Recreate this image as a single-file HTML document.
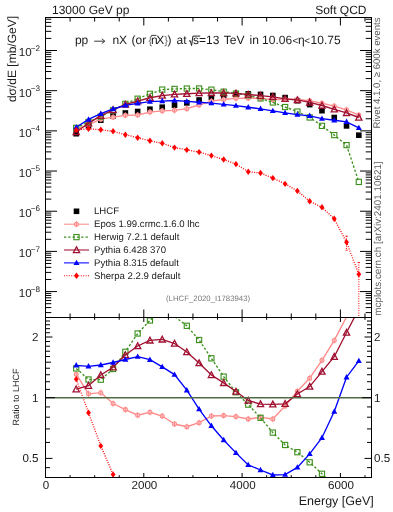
<!DOCTYPE html>
<html><head><meta charset="utf-8"><style>
html,body{margin:0;padding:0;background:#fff;}
svg{display:block;}
text{font-family:"Liberation Sans",sans-serif;fill:#1a1a1a;text-rendering:geometricPrecision;}
svg{will-change:transform;}
.hd{font-size:12px;}
.lg{font-size:9.6px;}
.tl{font-size:11.6px;}
.gr{fill:#5a5a5a;}
</style></head><body>
<svg width="393" height="512" viewBox="0 0 393 512">
<rect width="393" height="512" fill="#fff"/>
<text x="52" y="14" class="hd">13000 GeV pp</text>
<text x="366.5" y="14" class="hd" text-anchor="end">Soft QCD</text>
<g style="font-size:12px">
<text x="74.9" y="43.9">pp</text>
<path d="M94.2,41.2H104.6M101.8,38.8L104.8,41.2L101.8,43.6" fill="none" stroke="#222" stroke-width="0.9"/>
<text x="112.4" y="43.9">nX</text>
<text x="131.6" y="43.9">(or</text>
<text x="148.6" y="43.9" style="fill:#666;font-size:11px">{</text>
<text x="150.9" y="43.9">n</text><path d="M151.2,35.4H156.4" stroke="#222" stroke-width="0.9"/>
<text x="156.3" y="43.9">X</text>
<text x="164.3" y="43.9" style="fill:#666;font-size:11px">}</text>
<text x="167.6" y="43.9">)</text>
<text x="176.6" y="43.9">at</text>
<path d="M188.9,41.2L190.2,40.6L191.6,45.6L192.9,36.1H200.2" fill="none" stroke="#222" stroke-width="1"/>
<text x="193.1" y="43.9">s=13</text>
<text x="223.8" y="43.9">TeV</text>
<text x="249.6" y="43.9">in</text>
<text x="262.1" y="43.9">10.06</text>
<text x="292.6" y="43.6" style="font-size:10px">&lt;</text>
<text x="298.1" y="43.9">η</text>
<text x="304.2" y="43.6" style="font-size:10px">&lt;</text>
<text x="310.6" y="43.9">10.75</text>
</g>
<text transform="translate(379.8,17.5) rotate(-90)" text-anchor="end" class="gr" style="font-size:9.62px">Rivet 4.1.0, ≥ 600k events</text>
<text transform="translate(380.8,161.4) rotate(-90)" text-anchor="end" class="gr" style="font-size:9.86px">mcplots.cern.ch [arXiv:2401.10621]</text>
<text transform="translate(16,16) rotate(-90)" text-anchor="end" style="font-size:12px">dσ/dE [mb/GeV]</text>
<text transform="translate(19,425.5) rotate(-90)" style="font-size:9px">Ratio to LHCF</text>
<text x="166" y="301.4" style="font-size:7.8px;fill:#7a7a7a">(LHCF_2020_I1783943)</text>
<defs><clipPath id="cm"><rect x="45.5" y="17.5" width="326.0" height="300.0"/></clipPath><clipPath id="cr"><rect x="45.5" y="317.5" width="326.0" height="160.0"/></clipPath></defs>
<g clip-path="url(#cm)">
<rect x="73.42" y="130.90" width="5.6" height="5.6" fill="#000"/>
<rect x="85.71" y="122.90" width="5.6" height="5.6" fill="#000"/>
<rect x="97.99" y="117.40" width="5.6" height="5.6" fill="#000"/>
<rect x="110.28" y="113.20" width="5.6" height="5.6" fill="#000"/>
<rect x="122.57" y="110.20" width="5.6" height="5.6" fill="#000"/>
<rect x="134.86" y="108.70" width="5.6" height="5.6" fill="#000"/>
<rect x="147.14" y="106.40" width="5.6" height="5.6" fill="#000"/>
<rect x="159.43" y="104.40" width="5.6" height="5.6" fill="#000"/>
<rect x="171.72" y="102.30" width="5.6" height="5.6" fill="#000"/>
<rect x="184.01" y="100.10" width="5.6" height="5.6" fill="#000"/>
<rect x="196.29" y="97.20" width="5.6" height="5.6" fill="#000"/>
<rect x="208.58" y="94.70" width="5.6" height="5.6" fill="#000"/>
<rect x="220.87" y="93.10" width="5.6" height="5.6" fill="#000"/>
<rect x="233.16" y="91.80" width="5.6" height="5.6" fill="#000"/>
<rect x="245.44" y="91.10" width="5.6" height="5.6" fill="#000"/>
<rect x="257.73" y="91.60" width="5.6" height="5.6" fill="#000"/>
<rect x="270.02" y="92.70" width="5.6" height="5.6" fill="#000"/>
<rect x="282.31" y="94.80" width="5.6" height="5.6" fill="#000"/>
<rect x="294.59" y="97.90" width="5.6" height="5.6" fill="#000"/>
<rect x="306.88" y="101.80" width="5.6" height="5.6" fill="#000"/>
<rect x="319.17" y="107.90" width="5.6" height="5.6" fill="#000"/>
<rect x="331.46" y="114.70" width="5.6" height="5.6" fill="#000"/>
<rect x="343.74" y="123.10" width="5.6" height="5.6" fill="#000"/>
<rect x="356.03" y="132.40" width="5.6" height="5.6" fill="#000"/>
<polyline points="76.22,129.02 88.51,124.92 100.79,119.20 113.08,117.16 125.37,115.37 137.66,114.99 149.94,112.11 162.23,110.85 174.52,110.34 186.81,108.68 199.09,104.98 211.38,101.15 223.67,99.47 235.96,98.37 248.24,98.14 260.53,98.33 272.82,99.74 285.11,99.25 297.39,99.42 309.68,100.71 321.97,103.25 334.26,106.08 346.54,109.80 358.83,115.10" fill="none" stroke="#ff8a8a" stroke-width="1.35" />
<circle cx="76.22" cy="129.02" r="2.0" fill="#ffd0d0" stroke="#ff8a8a" stroke-width="1.05"/><path d="M76.22,126.02V132.02" stroke="#ff8a8a" stroke-width="1"/>
<circle cx="88.51" cy="124.92" r="2.0" fill="#ffd0d0" stroke="#ff8a8a" stroke-width="1.05"/><path d="M88.51,121.92V127.92" stroke="#ff8a8a" stroke-width="1"/>
<circle cx="100.79" cy="119.20" r="2.0" fill="#ffd0d0" stroke="#ff8a8a" stroke-width="1.05"/><path d="M100.79,116.20V122.20" stroke="#ff8a8a" stroke-width="1"/>
<circle cx="113.08" cy="117.16" r="2.0" fill="#ffd0d0" stroke="#ff8a8a" stroke-width="1.05"/><path d="M113.08,114.16V120.16" stroke="#ff8a8a" stroke-width="1"/>
<circle cx="125.37" cy="115.37" r="2.0" fill="#ffd0d0" stroke="#ff8a8a" stroke-width="1.05"/><path d="M125.37,112.37V118.37" stroke="#ff8a8a" stroke-width="1"/>
<circle cx="137.66" cy="114.99" r="2.0" fill="#ffd0d0" stroke="#ff8a8a" stroke-width="1.05"/><path d="M137.66,111.99V117.99" stroke="#ff8a8a" stroke-width="1"/>
<circle cx="149.94" cy="112.11" r="2.0" fill="#ffd0d0" stroke="#ff8a8a" stroke-width="1.05"/><path d="M149.94,109.11V115.11" stroke="#ff8a8a" stroke-width="1"/>
<circle cx="162.23" cy="110.85" r="2.0" fill="#ffd0d0" stroke="#ff8a8a" stroke-width="1.05"/><path d="M162.23,107.85V113.85" stroke="#ff8a8a" stroke-width="1"/>
<circle cx="174.52" cy="110.34" r="2.0" fill="#ffd0d0" stroke="#ff8a8a" stroke-width="1.05"/><path d="M174.52,107.34V113.34" stroke="#ff8a8a" stroke-width="1"/>
<circle cx="186.81" cy="108.68" r="2.0" fill="#ffd0d0" stroke="#ff8a8a" stroke-width="1.05"/><path d="M186.81,105.68V111.68" stroke="#ff8a8a" stroke-width="1"/>
<circle cx="199.09" cy="104.98" r="2.0" fill="#ffd0d0" stroke="#ff8a8a" stroke-width="1.05"/><path d="M199.09,101.98V107.98" stroke="#ff8a8a" stroke-width="1"/>
<circle cx="211.38" cy="101.15" r="2.0" fill="#ffd0d0" stroke="#ff8a8a" stroke-width="1.05"/><path d="M211.38,98.15V104.15" stroke="#ff8a8a" stroke-width="1"/>
<circle cx="223.67" cy="99.47" r="2.0" fill="#ffd0d0" stroke="#ff8a8a" stroke-width="1.05"/><path d="M223.67,96.47V102.47" stroke="#ff8a8a" stroke-width="1"/>
<circle cx="235.96" cy="98.37" r="2.0" fill="#ffd0d0" stroke="#ff8a8a" stroke-width="1.05"/><path d="M235.96,95.37V101.37" stroke="#ff8a8a" stroke-width="1"/>
<circle cx="248.24" cy="98.14" r="2.0" fill="#ffd0d0" stroke="#ff8a8a" stroke-width="1.05"/><path d="M248.24,95.14V101.14" stroke="#ff8a8a" stroke-width="1"/>
<circle cx="260.53" cy="98.33" r="2.0" fill="#ffd0d0" stroke="#ff8a8a" stroke-width="1.05"/><path d="M260.53,95.33V101.33" stroke="#ff8a8a" stroke-width="1"/>
<circle cx="272.82" cy="99.74" r="2.0" fill="#ffd0d0" stroke="#ff8a8a" stroke-width="1.05"/><path d="M272.82,96.74V102.74" stroke="#ff8a8a" stroke-width="1"/>
<circle cx="285.11" cy="99.25" r="2.0" fill="#ffd0d0" stroke="#ff8a8a" stroke-width="1.05"/><path d="M285.11,96.25V102.25" stroke="#ff8a8a" stroke-width="1"/>
<circle cx="297.39" cy="99.42" r="2.0" fill="#ffd0d0" stroke="#ff8a8a" stroke-width="1.05"/><path d="M297.39,96.42V102.42" stroke="#ff8a8a" stroke-width="1"/>
<circle cx="309.68" cy="100.71" r="2.0" fill="#ffd0d0" stroke="#ff8a8a" stroke-width="1.05"/><path d="M309.68,97.71V103.71" stroke="#ff8a8a" stroke-width="1"/>
<circle cx="321.97" cy="103.25" r="2.0" fill="#ffd0d0" stroke="#ff8a8a" stroke-width="1.05"/><path d="M321.97,100.25V106.25" stroke="#ff8a8a" stroke-width="1"/>
<circle cx="334.26" cy="106.08" r="2.0" fill="#ffd0d0" stroke="#ff8a8a" stroke-width="1.05"/><path d="M334.26,103.08V109.08" stroke="#ff8a8a" stroke-width="1"/>
<circle cx="346.54" cy="109.80" r="2.0" fill="#ffd0d0" stroke="#ff8a8a" stroke-width="1.05"/><path d="M346.54,106.80V112.80" stroke="#ff8a8a" stroke-width="1"/>
<circle cx="358.83" cy="115.10" r="2.0" fill="#ffd0d0" stroke="#ff8a8a" stroke-width="1.05"/><path d="M358.83,112.10V118.10" stroke="#ff8a8a" stroke-width="1"/>
<polyline points="76.22,127.86 88.51,122.07 100.79,116.61 113.08,110.28 125.37,103.85 137.66,98.71 149.94,93.82 162.23,89.60 174.52,88.90 186.81,88.57 199.09,88.50 211.38,89.65 223.67,91.70 235.96,93.52 248.24,95.27 260.53,98.41 272.82,102.45 285.11,107.03 297.39,111.56 309.68,117.47 321.97,125.86 334.26,135.10 346.54,145.10 358.83,181.90" fill="none" stroke="#3a8f1a" stroke-width="1.35" stroke-dasharray="2.3,2"/>
<rect x="73.62" y="125.26" width="5.2" height="5.2" fill="none" stroke="#3a8f1a" stroke-width="1.1"/>
<rect x="85.91" y="119.47" width="5.2" height="5.2" fill="none" stroke="#3a8f1a" stroke-width="1.1"/>
<rect x="98.19" y="114.01" width="5.2" height="5.2" fill="none" stroke="#3a8f1a" stroke-width="1.1"/>
<rect x="110.48" y="107.68" width="5.2" height="5.2" fill="none" stroke="#3a8f1a" stroke-width="1.1"/>
<rect x="122.77" y="101.25" width="5.2" height="5.2" fill="none" stroke="#3a8f1a" stroke-width="1.1"/>
<rect x="135.06" y="96.11" width="5.2" height="5.2" fill="none" stroke="#3a8f1a" stroke-width="1.1"/>
<rect x="147.34" y="91.22" width="5.2" height="5.2" fill="none" stroke="#3a8f1a" stroke-width="1.1"/>
<rect x="159.63" y="87.00" width="5.2" height="5.2" fill="none" stroke="#3a8f1a" stroke-width="1.1"/>
<rect x="171.92" y="86.30" width="5.2" height="5.2" fill="none" stroke="#3a8f1a" stroke-width="1.1"/>
<rect x="184.21" y="85.97" width="5.2" height="5.2" fill="none" stroke="#3a8f1a" stroke-width="1.1"/>
<rect x="196.49" y="85.90" width="5.2" height="5.2" fill="none" stroke="#3a8f1a" stroke-width="1.1"/>
<rect x="208.78" y="87.05" width="5.2" height="5.2" fill="none" stroke="#3a8f1a" stroke-width="1.1"/>
<rect x="221.07" y="89.10" width="5.2" height="5.2" fill="none" stroke="#3a8f1a" stroke-width="1.1"/>
<rect x="233.36" y="90.92" width="5.2" height="5.2" fill="none" stroke="#3a8f1a" stroke-width="1.1"/>
<rect x="245.64" y="92.67" width="5.2" height="5.2" fill="none" stroke="#3a8f1a" stroke-width="1.1"/>
<rect x="257.93" y="95.81" width="5.2" height="5.2" fill="none" stroke="#3a8f1a" stroke-width="1.1"/>
<rect x="270.22" y="99.85" width="5.2" height="5.2" fill="none" stroke="#3a8f1a" stroke-width="1.1"/>
<rect x="282.51" y="104.43" width="5.2" height="5.2" fill="none" stroke="#3a8f1a" stroke-width="1.1"/>
<rect x="294.79" y="108.96" width="5.2" height="5.2" fill="none" stroke="#3a8f1a" stroke-width="1.1"/>
<rect x="307.08" y="114.87" width="5.2" height="5.2" fill="none" stroke="#3a8f1a" stroke-width="1.1"/>
<rect x="319.37" y="123.26" width="5.2" height="5.2" fill="none" stroke="#3a8f1a" stroke-width="1.1"/>
<rect x="331.66" y="132.50" width="5.2" height="5.2" fill="none" stroke="#3a8f1a" stroke-width="1.1"/>
<rect x="343.94" y="142.50" width="5.2" height="5.2" fill="none" stroke="#3a8f1a" stroke-width="1.1"/>
<rect x="356.23" y="179.30" width="5.2" height="5.2" fill="none" stroke="#3a8f1a" stroke-width="1.1"/>
<polyline points="76.22,132.01 88.51,123.31 100.79,115.68 113.08,109.94 125.37,104.49 137.66,101.20 149.94,97.78 162.23,95.58 174.52,94.30 186.81,93.79 199.09,93.11 211.38,92.98 223.67,92.95 235.96,93.36 248.24,94.46 260.53,95.68 272.82,96.82 285.11,98.82 297.39,99.96 309.68,102.39 321.97,105.50 334.26,109.33 346.54,112.91 358.83,117.50" fill="none" stroke="#a01030" stroke-width="1.35" />
<path d="M76.22,128.81 L79.32,134.61 L73.12,134.61 Z" fill="none" stroke="#a01030" stroke-width="1.3"/>
<path d="M88.51,120.11 L91.61,125.91 L85.41,125.91 Z" fill="none" stroke="#a01030" stroke-width="1.3"/>
<path d="M100.79,112.48 L103.89,118.28 L97.69,118.28 Z" fill="none" stroke="#a01030" stroke-width="1.3"/>
<path d="M113.08,106.74 L116.18,112.54 L109.98,112.54 Z" fill="none" stroke="#a01030" stroke-width="1.3"/>
<path d="M125.37,101.29 L128.47,107.09 L122.27,107.09 Z" fill="none" stroke="#a01030" stroke-width="1.3"/>
<path d="M137.66,98.00 L140.76,103.80 L134.56,103.80 Z" fill="none" stroke="#a01030" stroke-width="1.3"/>
<path d="M149.94,94.58 L153.04,100.38 L146.84,100.38 Z" fill="none" stroke="#a01030" stroke-width="1.3"/>
<path d="M162.23,92.38 L165.33,98.18 L159.13,98.18 Z" fill="none" stroke="#a01030" stroke-width="1.3"/>
<path d="M174.52,91.10 L177.62,96.90 L171.42,96.90 Z" fill="none" stroke="#a01030" stroke-width="1.3"/>
<path d="M186.81,90.59 L189.91,96.39 L183.71,96.39 Z" fill="none" stroke="#a01030" stroke-width="1.3"/>
<path d="M199.09,89.91 L202.19,95.71 L195.99,95.71 Z" fill="none" stroke="#a01030" stroke-width="1.3"/>
<path d="M211.38,89.78 L214.48,95.58 L208.28,95.58 Z" fill="none" stroke="#a01030" stroke-width="1.3"/>
<path d="M223.67,89.75 L226.77,95.55 L220.57,95.55 Z" fill="none" stroke="#a01030" stroke-width="1.3"/>
<path d="M235.96,90.16 L239.06,95.96 L232.86,95.96 Z" fill="none" stroke="#a01030" stroke-width="1.3"/>
<path d="M248.24,91.26 L251.34,97.06 L245.14,97.06 Z" fill="none" stroke="#a01030" stroke-width="1.3"/>
<path d="M260.53,92.48 L263.63,98.28 L257.43,98.28 Z" fill="none" stroke="#a01030" stroke-width="1.3"/>
<path d="M272.82,93.62 L275.92,99.42 L269.72,99.42 Z" fill="none" stroke="#a01030" stroke-width="1.3"/>
<path d="M285.11,95.62 L288.21,101.42 L282.01,101.42 Z" fill="none" stroke="#a01030" stroke-width="1.3"/>
<path d="M297.39,96.76 L300.49,102.56 L294.29,102.56 Z" fill="none" stroke="#a01030" stroke-width="1.3"/>
<path d="M309.68,99.19 L312.78,104.99 L306.58,104.99 Z" fill="none" stroke="#a01030" stroke-width="1.3"/>
<path d="M321.97,102.30 L325.07,108.10 L318.87,108.10 Z" fill="none" stroke="#a01030" stroke-width="1.3"/>
<path d="M334.26,106.13 L337.36,111.93 L331.16,111.93 Z" fill="none" stroke="#a01030" stroke-width="1.3"/>
<path d="M346.54,109.71 L349.64,115.51 L343.44,115.51 Z" fill="none" stroke="#a01030" stroke-width="1.3"/>
<path d="M358.83,114.30 L361.93,120.10 L355.73,120.10 Z" fill="none" stroke="#a01030" stroke-width="1.3"/>
<polyline points="76.22,127.24 88.51,119.44 100.79,113.68 113.08,108.99 125.37,105.39 137.66,103.31 149.94,101.63 162.23,101.06 174.52,100.50 186.81,101.41 199.09,102.27 211.38,103.10 223.67,104.33 235.96,105.60 248.24,107.29 260.53,108.81 272.82,110.90 285.11,112.92 297.39,114.59 309.68,115.80 321.97,118.67 334.26,120.25 346.54,121.81 358.83,127.87" fill="none" stroke="#0000ff" stroke-width="1.35" />
<path d="M76.22,124.04 L79.22,129.44 L73.22,129.44 Z" fill="#0000ff"/>
<path d="M88.51,116.24 L91.51,121.64 L85.51,121.64 Z" fill="#0000ff"/>
<path d="M100.79,110.48 L103.79,115.88 L97.79,115.88 Z" fill="#0000ff"/>
<path d="M113.08,105.79 L116.08,111.19 L110.08,111.19 Z" fill="#0000ff"/>
<path d="M125.37,102.19 L128.37,107.59 L122.37,107.59 Z" fill="#0000ff"/>
<path d="M137.66,100.11 L140.66,105.51 L134.66,105.51 Z" fill="#0000ff"/>
<path d="M149.94,98.43 L152.94,103.83 L146.94,103.83 Z" fill="#0000ff"/>
<path d="M162.23,97.86 L165.23,103.26 L159.23,103.26 Z" fill="#0000ff"/>
<path d="M174.52,97.30 L177.52,102.70 L171.52,102.70 Z" fill="#0000ff"/>
<path d="M186.81,98.21 L189.81,103.61 L183.81,103.61 Z" fill="#0000ff"/>
<path d="M199.09,99.07 L202.09,104.47 L196.09,104.47 Z" fill="#0000ff"/>
<path d="M211.38,99.90 L214.38,105.30 L208.38,105.30 Z" fill="#0000ff"/>
<path d="M223.67,101.13 L226.67,106.53 L220.67,106.53 Z" fill="#0000ff"/>
<path d="M235.96,102.40 L238.96,107.80 L232.96,107.80 Z" fill="#0000ff"/>
<path d="M248.24,104.09 L251.24,109.49 L245.24,109.49 Z" fill="#0000ff"/>
<path d="M260.53,105.61 L263.53,111.01 L257.53,111.01 Z" fill="#0000ff"/>
<path d="M272.82,107.70 L275.82,113.10 L269.82,113.10 Z" fill="#0000ff"/>
<path d="M285.11,109.72 L288.11,115.12 L282.11,115.12 Z" fill="#0000ff"/>
<path d="M297.39,111.39 L300.39,116.79 L294.39,116.79 Z" fill="#0000ff"/>
<path d="M309.68,112.60 L312.68,118.00 L306.68,118.00 Z" fill="#0000ff"/>
<path d="M321.97,115.47 L324.97,120.87 L318.97,120.87 Z" fill="#0000ff"/>
<path d="M334.26,117.05 L337.26,122.45 L331.26,122.45 Z" fill="#0000ff"/>
<path d="M346.54,118.61 L349.54,124.01 L343.54,124.01 Z" fill="#0000ff"/>
<path d="M358.83,124.67 L361.83,130.07 L355.83,130.07 Z" fill="#0000ff"/>
<polyline points="76.22,130.00 88.51,128.70 100.79,129.80 113.08,131.30 125.37,134.70 137.66,137.70 149.94,140.80 162.23,143.30 174.52,147.60 186.81,149.90 199.09,152.10 211.38,155.60 223.67,159.50 235.96,164.10 248.24,171.70 260.53,173.00 272.82,178.10 285.11,183.90 297.39,190.90 309.68,201.30 321.97,207.30 334.26,218.80 346.54,242.30 358.83,274.30" fill="none" stroke="#ff0000" stroke-width="1.35" stroke-dasharray="1,1.4"/>
<path d="M346.54,235.9V250.4M358.83,262.2V318" stroke="#ff0000" stroke-width="1" stroke-dasharray="1,1.4"/>
<path d="M345.34,236.2h2.4M345.34,250.2h2.4M357.63,262.5h2.4" stroke="#ff0000" stroke-width="0.8"/>
<path d="M76.22,126.80 L78.62,130.00 L76.22,133.20 L73.82,130.00 Z" fill="#ff0000"/>
<path d="M88.51,125.50 L90.91,128.70 L88.51,131.90 L86.11,128.70 Z" fill="#ff0000"/>
<path d="M100.79,126.60 L103.19,129.80 L100.79,133.00 L98.39,129.80 Z" fill="#ff0000"/>
<path d="M113.08,128.10 L115.48,131.30 L113.08,134.50 L110.68,131.30 Z" fill="#ff0000"/>
<path d="M125.37,131.50 L127.77,134.70 L125.37,137.90 L122.97,134.70 Z" fill="#ff0000"/>
<path d="M137.66,134.50 L140.06,137.70 L137.66,140.90 L135.26,137.70 Z" fill="#ff0000"/>
<path d="M149.94,137.60 L152.34,140.80 L149.94,144.00 L147.54,140.80 Z" fill="#ff0000"/>
<path d="M162.23,140.10 L164.63,143.30 L162.23,146.50 L159.83,143.30 Z" fill="#ff0000"/>
<path d="M174.52,144.40 L176.92,147.60 L174.52,150.80 L172.12,147.60 Z" fill="#ff0000"/>
<path d="M186.81,146.70 L189.21,149.90 L186.81,153.10 L184.41,149.90 Z" fill="#ff0000"/>
<path d="M199.09,148.90 L201.49,152.10 L199.09,155.30 L196.69,152.10 Z" fill="#ff0000"/>
<path d="M211.38,152.40 L213.78,155.60 L211.38,158.80 L208.98,155.60 Z" fill="#ff0000"/>
<path d="M223.67,156.30 L226.07,159.50 L223.67,162.70 L221.27,159.50 Z" fill="#ff0000"/>
<path d="M235.96,160.90 L238.36,164.10 L235.96,167.30 L233.56,164.10 Z" fill="#ff0000"/>
<path d="M248.24,168.50 L250.64,171.70 L248.24,174.90 L245.84,171.70 Z" fill="#ff0000"/>
<path d="M260.53,169.80 L262.93,173.00 L260.53,176.20 L258.13,173.00 Z" fill="#ff0000"/>
<path d="M272.82,174.90 L275.22,178.10 L272.82,181.30 L270.42,178.10 Z" fill="#ff0000"/>
<path d="M285.11,180.70 L287.51,183.90 L285.11,187.10 L282.71,183.90 Z" fill="#ff0000"/>
<path d="M297.39,187.70 L299.79,190.90 L297.39,194.10 L294.99,190.90 Z" fill="#ff0000"/>
<path d="M309.68,198.10 L312.08,201.30 L309.68,204.50 L307.28,201.30 Z" fill="#ff0000"/>
<path d="M321.97,204.10 L324.37,207.30 L321.97,210.50 L319.57,207.30 Z" fill="#ff0000"/>
<path d="M334.26,215.60 L336.66,218.80 L334.26,222.00 L331.86,218.80 Z" fill="#ff0000"/>
<path d="M346.54,239.10 L348.94,242.30 L346.54,245.50 L344.14,242.30 Z" fill="#ff0000"/>
<path d="M358.83,271.10 L361.23,274.30 L358.83,277.50 L356.43,274.30 Z" fill="#ff0000"/>
</g>
<g clip-path="url(#cr)">
<polyline points="76.22,374.20 88.51,393.80 100.79,392.70 113.08,403.50 125.37,409.60 137.66,415.20 149.94,412.30 162.23,416.00 174.52,424.00 186.81,426.70 199.09,422.70 211.38,416.00 223.67,415.60 235.96,416.60 248.24,419.00 260.53,417.40 272.82,419.00 285.11,406.00 297.39,391.30 309.68,378.20 321.97,360.30 334.26,340.40 346.54,316.91 358.83,296.83" fill="none" stroke="#ff8a8a" stroke-width="1.35" />
<circle cx="76.22" cy="374.20" r="2.0" fill="#ffd0d0" stroke="#ff8a8a" stroke-width="1.05"/><path d="M76.22,371.20V377.20" stroke="#ff8a8a" stroke-width="1"/>
<circle cx="88.51" cy="393.80" r="2.0" fill="#ffd0d0" stroke="#ff8a8a" stroke-width="1.05"/><path d="M88.51,390.80V396.80" stroke="#ff8a8a" stroke-width="1"/>
<circle cx="100.79" cy="392.70" r="2.0" fill="#ffd0d0" stroke="#ff8a8a" stroke-width="1.05"/><path d="M100.79,389.70V395.70" stroke="#ff8a8a" stroke-width="1"/>
<circle cx="113.08" cy="403.50" r="2.0" fill="#ffd0d0" stroke="#ff8a8a" stroke-width="1.05"/><path d="M113.08,400.50V406.50" stroke="#ff8a8a" stroke-width="1"/>
<circle cx="125.37" cy="409.60" r="2.0" fill="#ffd0d0" stroke="#ff8a8a" stroke-width="1.05"/><path d="M125.37,406.60V412.60" stroke="#ff8a8a" stroke-width="1"/>
<circle cx="137.66" cy="415.20" r="2.0" fill="#ffd0d0" stroke="#ff8a8a" stroke-width="1.05"/><path d="M137.66,412.20V418.20" stroke="#ff8a8a" stroke-width="1"/>
<circle cx="149.94" cy="412.30" r="2.0" fill="#ffd0d0" stroke="#ff8a8a" stroke-width="1.05"/><path d="M149.94,409.30V415.30" stroke="#ff8a8a" stroke-width="1"/>
<circle cx="162.23" cy="416.00" r="2.0" fill="#ffd0d0" stroke="#ff8a8a" stroke-width="1.05"/><path d="M162.23,413.00V419.00" stroke="#ff8a8a" stroke-width="1"/>
<circle cx="174.52" cy="424.00" r="2.0" fill="#ffd0d0" stroke="#ff8a8a" stroke-width="1.05"/><path d="M174.52,421.00V427.00" stroke="#ff8a8a" stroke-width="1"/>
<circle cx="186.81" cy="426.70" r="2.0" fill="#ffd0d0" stroke="#ff8a8a" stroke-width="1.05"/><path d="M186.81,423.70V429.70" stroke="#ff8a8a" stroke-width="1"/>
<circle cx="199.09" cy="422.70" r="2.0" fill="#ffd0d0" stroke="#ff8a8a" stroke-width="1.05"/><path d="M199.09,419.70V425.70" stroke="#ff8a8a" stroke-width="1"/>
<circle cx="211.38" cy="416.00" r="2.0" fill="#ffd0d0" stroke="#ff8a8a" stroke-width="1.05"/><path d="M211.38,413.00V419.00" stroke="#ff8a8a" stroke-width="1"/>
<circle cx="223.67" cy="415.60" r="2.0" fill="#ffd0d0" stroke="#ff8a8a" stroke-width="1.05"/><path d="M223.67,412.60V418.60" stroke="#ff8a8a" stroke-width="1"/>
<circle cx="235.96" cy="416.60" r="2.0" fill="#ffd0d0" stroke="#ff8a8a" stroke-width="1.05"/><path d="M235.96,413.60V419.60" stroke="#ff8a8a" stroke-width="1"/>
<circle cx="248.24" cy="419.00" r="2.0" fill="#ffd0d0" stroke="#ff8a8a" stroke-width="1.05"/><path d="M248.24,416.00V422.00" stroke="#ff8a8a" stroke-width="1"/>
<circle cx="260.53" cy="417.40" r="2.0" fill="#ffd0d0" stroke="#ff8a8a" stroke-width="1.05"/><path d="M260.53,414.40V420.40" stroke="#ff8a8a" stroke-width="1"/>
<circle cx="272.82" cy="419.00" r="2.0" fill="#ffd0d0" stroke="#ff8a8a" stroke-width="1.05"/><path d="M272.82,416.00V422.00" stroke="#ff8a8a" stroke-width="1"/>
<circle cx="285.11" cy="406.00" r="2.0" fill="#ffd0d0" stroke="#ff8a8a" stroke-width="1.05"/><path d="M285.11,403.00V409.00" stroke="#ff8a8a" stroke-width="1"/>
<circle cx="297.39" cy="391.30" r="2.0" fill="#ffd0d0" stroke="#ff8a8a" stroke-width="1.05"/><path d="M297.39,388.30V394.30" stroke="#ff8a8a" stroke-width="1"/>
<circle cx="309.68" cy="378.20" r="2.0" fill="#ffd0d0" stroke="#ff8a8a" stroke-width="1.05"/><path d="M309.68,375.20V381.20" stroke="#ff8a8a" stroke-width="1"/>
<circle cx="321.97" cy="360.30" r="2.0" fill="#ffd0d0" stroke="#ff8a8a" stroke-width="1.05"/><path d="M321.97,357.30V363.30" stroke="#ff8a8a" stroke-width="1"/>
<circle cx="334.26" cy="340.40" r="2.0" fill="#ffd0d0" stroke="#ff8a8a" stroke-width="1.05"/><path d="M334.26,337.40V343.40" stroke="#ff8a8a" stroke-width="1"/>
<polyline points="76.22,368.40 88.51,379.50 100.79,379.70 113.08,369.00 125.37,351.80 137.66,333.50 149.94,320.50 162.23,309.38 174.52,316.40 186.81,325.80 199.09,340.00 211.38,358.30 223.67,376.60 235.96,392.30 248.24,404.60 260.53,417.80 272.82,432.60 285.11,445.00 297.39,452.20 309.68,462.30 321.97,473.80 334.26,486.02 346.54,494.05 358.83,632.06" fill="none" stroke="#3a8f1a" stroke-width="1.35" stroke-dasharray="2.3,2"/>
<rect x="73.62" y="365.80" width="5.2" height="5.2" fill="none" stroke="#3a8f1a" stroke-width="1.1"/>
<rect x="85.91" y="376.90" width="5.2" height="5.2" fill="none" stroke="#3a8f1a" stroke-width="1.1"/>
<rect x="98.19" y="377.10" width="5.2" height="5.2" fill="none" stroke="#3a8f1a" stroke-width="1.1"/>
<rect x="110.48" y="366.40" width="5.2" height="5.2" fill="none" stroke="#3a8f1a" stroke-width="1.1"/>
<rect x="122.77" y="349.20" width="5.2" height="5.2" fill="none" stroke="#3a8f1a" stroke-width="1.1"/>
<rect x="135.06" y="330.90" width="5.2" height="5.2" fill="none" stroke="#3a8f1a" stroke-width="1.1"/>
<rect x="147.34" y="317.90" width="5.2" height="5.2" fill="none" stroke="#3a8f1a" stroke-width="1.1"/>
<rect x="184.21" y="323.20" width="5.2" height="5.2" fill="none" stroke="#3a8f1a" stroke-width="1.1"/>
<rect x="196.49" y="337.40" width="5.2" height="5.2" fill="none" stroke="#3a8f1a" stroke-width="1.1"/>
<rect x="208.78" y="355.70" width="5.2" height="5.2" fill="none" stroke="#3a8f1a" stroke-width="1.1"/>
<rect x="221.07" y="374.00" width="5.2" height="5.2" fill="none" stroke="#3a8f1a" stroke-width="1.1"/>
<rect x="233.36" y="389.70" width="5.2" height="5.2" fill="none" stroke="#3a8f1a" stroke-width="1.1"/>
<rect x="245.64" y="402.00" width="5.2" height="5.2" fill="none" stroke="#3a8f1a" stroke-width="1.1"/>
<rect x="257.93" y="415.20" width="5.2" height="5.2" fill="none" stroke="#3a8f1a" stroke-width="1.1"/>
<rect x="270.22" y="430.00" width="5.2" height="5.2" fill="none" stroke="#3a8f1a" stroke-width="1.1"/>
<rect x="282.51" y="442.40" width="5.2" height="5.2" fill="none" stroke="#3a8f1a" stroke-width="1.1"/>
<rect x="294.79" y="449.60" width="5.2" height="5.2" fill="none" stroke="#3a8f1a" stroke-width="1.1"/>
<rect x="307.08" y="459.70" width="5.2" height="5.2" fill="none" stroke="#3a8f1a" stroke-width="1.1"/>
<rect x="319.37" y="471.20" width="5.2" height="5.2" fill="none" stroke="#3a8f1a" stroke-width="1.1"/>
<polyline points="76.22,389.20 88.51,385.70 100.79,375.00 113.08,367.30 125.37,355.00 137.66,346.00 149.94,340.40 162.23,339.40 174.52,343.50 186.81,352.00 199.09,363.10 211.38,375.00 223.67,382.90 235.96,391.50 248.24,400.50 260.53,404.10 272.82,404.30 285.11,403.80 297.39,394.00 309.68,386.60 321.97,371.60 334.26,356.70 346.54,332.50 358.83,308.88" fill="none" stroke="#a01030" stroke-width="1.35" />
<path d="M76.22,386.00 L79.32,391.80 L73.12,391.80 Z" fill="none" stroke="#a01030" stroke-width="1.3"/>
<path d="M88.51,382.50 L91.61,388.30 L85.41,388.30 Z" fill="none" stroke="#a01030" stroke-width="1.3"/>
<path d="M100.79,371.80 L103.89,377.60 L97.69,377.60 Z" fill="none" stroke="#a01030" stroke-width="1.3"/>
<path d="M113.08,364.10 L116.18,369.90 L109.98,369.90 Z" fill="none" stroke="#a01030" stroke-width="1.3"/>
<path d="M125.37,351.80 L128.47,357.60 L122.27,357.60 Z" fill="none" stroke="#a01030" stroke-width="1.3"/>
<path d="M137.66,342.80 L140.76,348.60 L134.56,348.60 Z" fill="none" stroke="#a01030" stroke-width="1.3"/>
<path d="M149.94,337.20 L153.04,343.00 L146.84,343.00 Z" fill="none" stroke="#a01030" stroke-width="1.3"/>
<path d="M162.23,336.20 L165.33,342.00 L159.13,342.00 Z" fill="none" stroke="#a01030" stroke-width="1.3"/>
<path d="M174.52,340.30 L177.62,346.10 L171.42,346.10 Z" fill="none" stroke="#a01030" stroke-width="1.3"/>
<path d="M186.81,348.80 L189.91,354.60 L183.71,354.60 Z" fill="none" stroke="#a01030" stroke-width="1.3"/>
<path d="M199.09,359.90 L202.19,365.70 L195.99,365.70 Z" fill="none" stroke="#a01030" stroke-width="1.3"/>
<path d="M211.38,371.80 L214.48,377.60 L208.28,377.60 Z" fill="none" stroke="#a01030" stroke-width="1.3"/>
<path d="M223.67,379.70 L226.77,385.50 L220.57,385.50 Z" fill="none" stroke="#a01030" stroke-width="1.3"/>
<path d="M235.96,388.30 L239.06,394.10 L232.86,394.10 Z" fill="none" stroke="#a01030" stroke-width="1.3"/>
<path d="M248.24,397.30 L251.34,403.10 L245.14,403.10 Z" fill="none" stroke="#a01030" stroke-width="1.3"/>
<path d="M260.53,400.90 L263.63,406.70 L257.43,406.70 Z" fill="none" stroke="#a01030" stroke-width="1.3"/>
<path d="M272.82,401.10 L275.92,406.90 L269.72,406.90 Z" fill="none" stroke="#a01030" stroke-width="1.3"/>
<path d="M285.11,400.60 L288.21,406.40 L282.01,406.40 Z" fill="none" stroke="#a01030" stroke-width="1.3"/>
<path d="M297.39,390.80 L300.49,396.60 L294.29,396.60 Z" fill="none" stroke="#a01030" stroke-width="1.3"/>
<path d="M309.68,383.40 L312.78,389.20 L306.58,389.20 Z" fill="none" stroke="#a01030" stroke-width="1.3"/>
<path d="M321.97,368.40 L325.07,374.20 L318.87,374.20 Z" fill="none" stroke="#a01030" stroke-width="1.3"/>
<path d="M334.26,353.50 L337.36,359.30 L331.16,359.30 Z" fill="none" stroke="#a01030" stroke-width="1.3"/>
<path d="M346.54,329.30 L349.64,335.10 L343.44,335.10 Z" fill="none" stroke="#a01030" stroke-width="1.3"/>
<polyline points="76.22,365.30 88.51,366.30 100.79,365.00 113.08,362.50 125.37,359.50 137.66,356.60 149.94,359.70 162.23,366.90 174.52,374.60 186.81,390.20 199.09,409.10 211.38,425.80 223.67,440.00 235.96,452.90 248.24,464.90 260.53,470.00 272.82,475.00 285.11,474.60 297.39,467.40 309.68,453.90 321.97,437.70 334.26,411.50 346.54,377.20 358.83,360.90" fill="none" stroke="#0000ff" stroke-width="1.35" />
<path d="M76.22,362.10 L79.22,367.50 L73.22,367.50 Z" fill="#0000ff"/>
<path d="M88.51,363.10 L91.51,368.50 L85.51,368.50 Z" fill="#0000ff"/>
<path d="M100.79,361.80 L103.79,367.20 L97.79,367.20 Z" fill="#0000ff"/>
<path d="M113.08,359.30 L116.08,364.70 L110.08,364.70 Z" fill="#0000ff"/>
<path d="M125.37,356.30 L128.37,361.70 L122.37,361.70 Z" fill="#0000ff"/>
<path d="M137.66,353.40 L140.66,358.80 L134.66,358.80 Z" fill="#0000ff"/>
<path d="M149.94,356.50 L152.94,361.90 L146.94,361.90 Z" fill="#0000ff"/>
<path d="M162.23,363.70 L165.23,369.10 L159.23,369.10 Z" fill="#0000ff"/>
<path d="M174.52,371.40 L177.52,376.80 L171.52,376.80 Z" fill="#0000ff"/>
<path d="M186.81,387.00 L189.81,392.40 L183.81,392.40 Z" fill="#0000ff"/>
<path d="M199.09,405.90 L202.09,411.30 L196.09,411.30 Z" fill="#0000ff"/>
<path d="M211.38,422.60 L214.38,428.00 L208.38,428.00 Z" fill="#0000ff"/>
<path d="M223.67,436.80 L226.67,442.20 L220.67,442.20 Z" fill="#0000ff"/>
<path d="M235.96,449.70 L238.96,455.10 L232.96,455.10 Z" fill="#0000ff"/>
<path d="M248.24,461.70 L251.24,467.10 L245.24,467.10 Z" fill="#0000ff"/>
<path d="M260.53,466.80 L263.53,472.20 L257.53,472.20 Z" fill="#0000ff"/>
<path d="M272.82,471.80 L275.82,477.20 L269.82,477.20 Z" fill="#0000ff"/>
<path d="M285.11,471.40 L288.11,476.80 L282.11,476.80 Z" fill="#0000ff"/>
<path d="M297.39,464.20 L300.39,469.60 L294.39,469.60 Z" fill="#0000ff"/>
<path d="M309.68,450.70 L312.68,456.10 L306.68,456.10 Z" fill="#0000ff"/>
<path d="M321.97,434.50 L324.97,439.90 L318.97,439.90 Z" fill="#0000ff"/>
<path d="M334.26,408.30 L337.26,413.70 L331.26,413.70 Z" fill="#0000ff"/>
<path d="M346.54,374.00 L349.54,379.40 L343.54,379.40 Z" fill="#0000ff"/>
<path d="M358.83,357.70 L361.83,363.10 L355.83,363.10 Z" fill="#0000ff"/>
<polyline points="76.22,379.13 88.51,412.75 100.79,445.88 113.08,474.48 125.37,506.60 137.66,529.18 149.94,556.28 162.23,578.86 174.52,610.98 186.81,633.56 199.09,659.15 211.38,689.26 223.67,716.86 235.96,746.47 248.24,788.13 260.53,792.14 272.82,812.21 285.11,830.78 297.39,850.35 309.68,882.97 321.97,882.47 334.26,906.06 346.54,981.83 358.83,1095.75" fill="none" stroke="#ff0000" stroke-width="1.35" stroke-dasharray="1,1.4"/>
<path d="M76.22,375.93 L78.62,379.13 L76.22,382.33 L73.82,379.13 Z" fill="#ff0000"/>
<path d="M88.51,409.55 L90.91,412.75 L88.51,415.95 L86.11,412.75 Z" fill="#ff0000"/>
<path d="M100.79,442.68 L103.19,445.88 L100.79,449.08 L98.39,445.88 Z" fill="#ff0000"/>
<path d="M113.08,471.28 L115.48,474.48 L113.08,477.68 L110.68,474.48 Z" fill="#ff0000"/>
</g>
<line x1="45.5" y1="397.70" x2="371.5" y2="397.70" stroke="#4f6c45" stroke-width="1.45"/>
<path d="M45.5,312.59h5.8M371.5,312.59h-5.8M45.5,307.57h5.8M371.5,307.57h-5.8M45.5,303.68h5.8M371.5,303.68h-5.8M45.5,300.49h5.8M371.5,300.49h-5.8M45.5,297.80h5.8M371.5,297.80h-5.8M45.5,295.47h5.8M371.5,295.47h-5.8M45.5,293.42h5.8M371.5,293.42h-5.8M45.5,291.58h11.5M371.5,291.58h-11.5M45.5,279.48h5.8M371.5,279.48h-5.8M45.5,272.41h5.8M371.5,272.41h-5.8M45.5,267.39h5.8M371.5,267.39h-5.8M45.5,263.50h5.8M371.5,263.50h-5.8M45.5,260.31h5.8M371.5,260.31h-5.8M45.5,257.62h5.8M371.5,257.62h-5.8M45.5,255.29h5.8M371.5,255.29h-5.8M45.5,253.24h5.8M371.5,253.24h-5.8M45.5,251.40h11.5M371.5,251.40h-11.5M45.5,239.30h5.8M371.5,239.30h-5.8M45.5,232.23h5.8M371.5,232.23h-5.8M45.5,227.21h5.8M371.5,227.21h-5.8M45.5,223.32h5.8M371.5,223.32h-5.8M45.5,220.13h5.8M371.5,220.13h-5.8M45.5,217.44h5.8M371.5,217.44h-5.8M45.5,215.11h5.8M371.5,215.11h-5.8M45.5,213.06h5.8M371.5,213.06h-5.8M45.5,211.22h11.5M371.5,211.22h-11.5M45.5,199.12h5.8M371.5,199.12h-5.8M45.5,192.05h5.8M371.5,192.05h-5.8M45.5,187.03h5.8M371.5,187.03h-5.8M45.5,183.14h5.8M371.5,183.14h-5.8M45.5,179.95h5.8M371.5,179.95h-5.8M45.5,177.26h5.8M371.5,177.26h-5.8M45.5,174.93h5.8M371.5,174.93h-5.8M45.5,172.88h5.8M371.5,172.88h-5.8M45.5,171.04h11.5M371.5,171.04h-11.5M45.5,158.94h5.8M371.5,158.94h-5.8M45.5,151.87h5.8M371.5,151.87h-5.8M45.5,146.85h5.8M371.5,146.85h-5.8M45.5,142.96h5.8M371.5,142.96h-5.8M45.5,139.77h5.8M371.5,139.77h-5.8M45.5,137.08h5.8M371.5,137.08h-5.8M45.5,134.75h5.8M371.5,134.75h-5.8M45.5,132.70h5.8M371.5,132.70h-5.8M45.5,130.86h11.5M371.5,130.86h-11.5M45.5,118.76h5.8M371.5,118.76h-5.8M45.5,111.69h5.8M371.5,111.69h-5.8M45.5,106.67h5.8M371.5,106.67h-5.8M45.5,102.78h5.8M371.5,102.78h-5.8M45.5,99.59h5.8M371.5,99.59h-5.8M45.5,96.90h5.8M371.5,96.90h-5.8M45.5,94.57h5.8M371.5,94.57h-5.8M45.5,92.52h5.8M371.5,92.52h-5.8M45.5,90.68h11.5M371.5,90.68h-11.5M45.5,78.58h5.8M371.5,78.58h-5.8M45.5,71.51h5.8M371.5,71.51h-5.8M45.5,66.49h5.8M371.5,66.49h-5.8M45.5,62.60h5.8M371.5,62.60h-5.8M45.5,59.41h5.8M371.5,59.41h-5.8M45.5,56.72h5.8M371.5,56.72h-5.8M45.5,54.39h5.8M371.5,54.39h-5.8M45.5,52.34h5.8M371.5,52.34h-5.8M45.5,50.50h11.5M371.5,50.50h-11.5M45.5,38.40h5.8M371.5,38.40h-5.8M45.5,31.33h5.8M371.5,31.33h-5.8M45.5,26.31h5.8M371.5,26.31h-5.8M45.5,22.42h5.8M371.5,22.42h-5.8M45.5,19.23h5.8M371.5,19.23h-5.8M70.08,17.5v4M70.08,317.5v-4M94.65,17.5v4M94.65,317.5v-4M119.22,17.5v4M119.22,317.5v-4M143.80,17.5v8M143.80,317.5v-8M168.38,17.5v4M168.38,317.5v-4M192.95,17.5v4M192.95,317.5v-4M217.53,17.5v4M217.53,317.5v-4M242.10,17.5v8M242.10,317.5v-8M266.67,17.5v4M266.67,317.5v-4M291.25,17.5v4M291.25,317.5v-4M315.82,17.5v4M315.82,317.5v-4M340.40,17.5v8M340.40,317.5v-8M364.98,17.5v4M364.98,317.5v-4M45.5,467.63h4.5M371.5,467.63h-4.5M45.5,458.40h7M371.5,458.40h-7M45.5,442.43h4.5M371.5,442.43h-4.5M45.5,428.93h4.5M371.5,428.93h-4.5M45.5,417.24h4.5M371.5,417.24h-4.5M45.5,406.93h4.5M371.5,406.93h-4.5M45.5,397.70h9.5M371.5,397.70h-9.5M45.5,389.35h4.5M371.5,389.35h-4.5M45.5,381.73h4.5M371.5,381.73h-4.5M45.5,374.72h4.5M371.5,374.72h-4.5M45.5,368.23h4.5M371.5,368.23h-4.5M45.5,362.19h5.5M371.5,362.19h-5.5M45.5,356.54h4.5M371.5,356.54h-4.5M45.5,351.23h4.5M371.5,351.23h-4.5M45.5,346.23h4.5M371.5,346.23h-4.5M45.5,341.49h4.5M371.5,341.49h-4.5M45.5,337.00h7M371.5,337.00h-7M45.5,332.73h4.5M371.5,332.73h-4.5M45.5,328.65h4.5M371.5,328.65h-4.5M45.5,324.76h4.5M371.5,324.76h-4.5M45.5,321.03h4.5M371.5,321.03h-4.5M70.08,317.5v2.3M70.08,477.5v-2.3M94.65,317.5v2.3M94.65,477.5v-2.3M119.22,317.5v2.3M119.22,477.5v-2.3M143.80,317.5v4.5M143.80,477.5v-4.5M168.38,317.5v2.3M168.38,477.5v-2.3M192.95,317.5v2.3M192.95,477.5v-2.3M217.53,317.5v2.3M217.53,477.5v-2.3M242.10,317.5v4.5M242.10,477.5v-4.5M266.67,317.5v2.3M266.67,477.5v-2.3M291.25,317.5v2.3M291.25,477.5v-2.3M315.82,317.5v2.3M315.82,477.5v-2.3M340.40,317.5v4.5M340.40,477.5v-4.5M364.98,317.5v2.3M364.98,477.5v-2.3" stroke="#000" stroke-width="1" fill="none"/>
<rect x="45.5" y="17.5" width="326.0" height="460.0" fill="none" stroke="#000" stroke-width="1"/>
<line x1="45.5" y1="317.5" x2="371.5" y2="317.5" stroke="#000" stroke-width="1"/>
<rect x="73.70" y="208.50" width="5.6" height="5.6" fill="#000"/>
<text x="94.0" y="214.00" class="lg">LHCF</text>
<line x1="64" y1="224.20" x2="89" y2="224.20" stroke="#ff8a8a" stroke-width="1.05" />
<circle cx="76.50" cy="224.20" r="2.0" fill="#ffd0d0" stroke="#ff8a8a" stroke-width="1.05"/><path d="M76.50,221.20V227.20" stroke="#ff8a8a" stroke-width="1"/>
<text x="94.0" y="226.90" class="lg">Epos 1.99.crmc.1.6.0 lhc</text>
<line x1="64" y1="237.10" x2="89" y2="237.10" stroke="#3a8f1a" stroke-width="1.05" stroke-dasharray="2.3,2"/>
<rect x="73.90" y="234.50" width="5.2" height="5.2" fill="none" stroke="#3a8f1a" stroke-width="1.1"/>
<text x="94.0" y="239.80" class="lg">Herwig 7.2.1 default</text>
<line x1="64" y1="250.00" x2="89" y2="250.00" stroke="#a01030" stroke-width="1.05" />
<path d="M76.50,246.80 L79.60,252.60 L73.40,252.60 Z" fill="none" stroke="#a01030" stroke-width="1.3"/>
<text x="94.0" y="252.70" class="lg">Pythia 6.428 370</text>
<line x1="64" y1="262.90" x2="89" y2="262.90" stroke="#0000ff" stroke-width="1.05" />
<path d="M76.50,259.70 L79.50,265.10 L73.50,265.10 Z" fill="#0000ff"/>
<text x="94.0" y="265.60" class="lg">Pythia 8.315 default</text>
<line x1="64" y1="275.80" x2="89" y2="275.80" stroke="#ff0000" stroke-width="1.05" stroke-dasharray="1,1.4"/>
<path d="M76.50,272.60 L78.90,275.80 L76.50,279.00 L74.10,275.80 Z" fill="#ff0000"/>
<text x="94.0" y="278.50" class="lg">Sherpa 2.2.9 default</text>
<text x="31.6" y="56.40" class="tl" text-anchor="end">10</text><text x="30.7" y="50.60" style="font-size:8.1px">−2</text>
<text x="31.6" y="96.58" class="tl" text-anchor="end">10</text><text x="30.7" y="90.78" style="font-size:8.1px">−3</text>
<text x="31.6" y="136.76" class="tl" text-anchor="end">10</text><text x="30.7" y="130.96" style="font-size:8.1px">−4</text>
<text x="31.6" y="176.94" class="tl" text-anchor="end">10</text><text x="30.7" y="171.14" style="font-size:8.1px">−5</text>
<text x="31.6" y="217.12" class="tl" text-anchor="end">10</text><text x="30.7" y="211.32" style="font-size:8.1px">−6</text>
<text x="31.6" y="257.30" class="tl" text-anchor="end">10</text><text x="30.7" y="251.50" style="font-size:8.1px">−7</text>
<text x="31.6" y="297.48" class="tl" text-anchor="end">10</text><text x="30.7" y="291.68" style="font-size:8.1px">−8</text>
<text x="38.5" y="341.00" class="tl" text-anchor="end">2</text>
<text x="374" y="341.00" class="tl">2</text>
<text x="38.5" y="401.70" class="tl" text-anchor="end">1</text>
<text x="374" y="401.70" class="tl">1</text>
<text x="38.5" y="462.40" class="tl" text-anchor="end">0.5</text>
<text x="374" y="462.40" class="tl">0.5</text>
<text x="46.10" y="489.2" class="tl" text-anchor="middle">0</text>
<text x="144.40" y="489.2" class="tl" text-anchor="middle">2000</text>
<text x="242.70" y="489.2" class="tl" text-anchor="middle">4000</text>
<text x="341.00" y="489.2" class="tl" text-anchor="middle">6000</text>
<text x="373.8" y="504.6" text-anchor="end" style="font-size:12.5px">Energy [GeV]</text>
</svg></body></html>
